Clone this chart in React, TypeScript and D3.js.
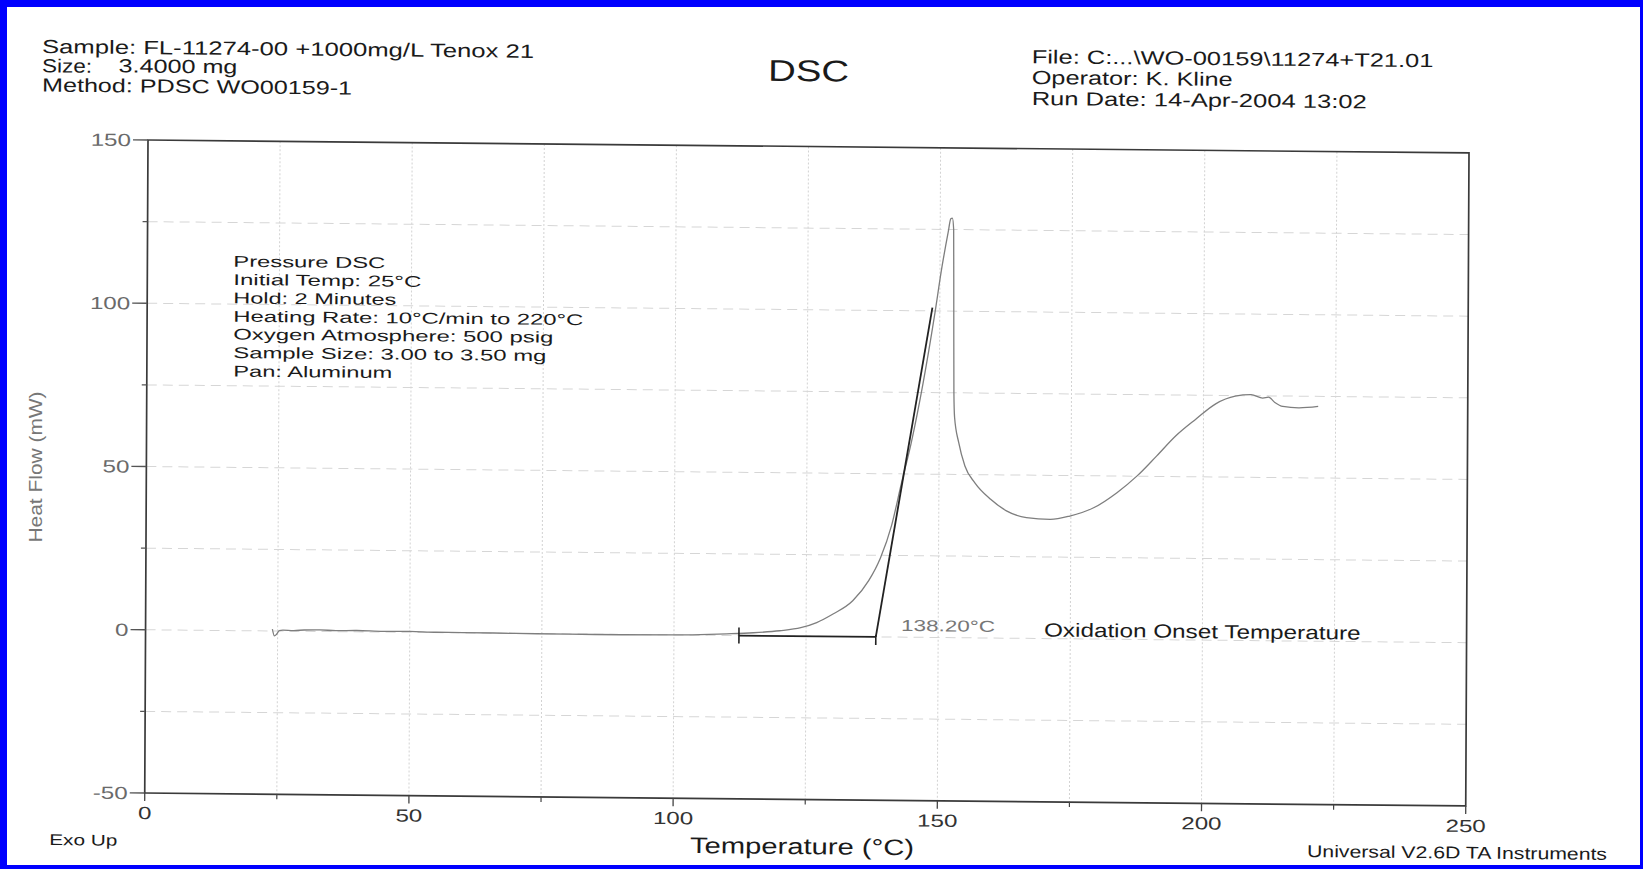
import React from "react";
import * as d3 from "d3";

// ---- data ----
const temperature = [
  24.0, 24.4, 24.8, 25.3, 26, 28, 30, 33, 36, 40, 45, 50, 55, 60, 70, 80, 90, 100, 105, 110,
  115, 120, 124, 127, 130, 133.8, 136.8, 139, 141.1, 142.9, 144.7, 146.9, 149, 150.4, 151.5,
  152.0, 152.3, 152.55, 152.65, 152.75, 152.9, 153.7, 154.9, 156.8, 159.8, 162.8, 166.6, 171.1,
  174.8, 179.3, 183.7, 187.5, 191.2, 194.8, 198.6, 202.3, 206, 209, 211.2, 212.3, 213.5, 215,
  218, 221.7,
];
const heatFlow = [
  0.6, -1.5, -1.0, 0.1, 0.3, 0.2, 0.4, 0.5, 0.3, 0.4, 0.2, 0.3, 0.1, 0.1, 0.0, -0.1, -0.1, 0,
  0.2, 0.5, 0.9, 1.6, 2.6, 4.2, 6.8, 11.0, 17.2, 24.2, 34.3, 47.1, 59.4, 77.8, 98.5, 113.8, 124,
  128.3, 128.5, 125, 100, 75, 67.5, 59.8, 52.6, 47.5, 42.5, 39, 37, 36.5, 37.6, 40.2, 44.9, 50.1,
  56.3, 62.5, 67.7, 72.4, 74.8, 75.3, 74.3, 74.6, 73, 71.8, 71.4, 71.9,
];
const xTicksMajor = [0, 50, 100, 150, 200, 250];
const xTicksMinor = [25, 75, 125, 175, 225];
const yTicksMajor = [150, 100, 50, 0, -50];
const yTicksMinor = [125, 75, 25, -25];
const onsetBaseline = [112.3, 138.2]; // temperatures of tangent baseline ends (at 0 mW)
const onsetTangentTop = [148.6, 101]; // [temperature, mW]
const onsetTemp = 138.2;

const headerLeft = [
  "Sample: FL-11274-00 +1000mg/L Tenox 21",
  "Size:",
  "Method: PDSC WO00159-1",
];
const headerRight = [
  "File: C:...\\WO-00159\\11274+T21.01",
  "Operator: K. Kline",
  "Run Date: 14-Apr-2004 13:02",
];
const methodNotes = [
  "Pressure DSC",
  "Initial Temp: 25°C",
  "Hold: 2 Minutes",
  "Heating Rate: 10°C/min to 220°C",
  "Oxygen Atmosphere: 500 psig",
  "Sample Size: 3.00 to 3.50 mg",
  "Pan: Aluminum",
];

const FONT = "'Liberation Sans', Arial, sans-serif";
const TILT = 0.56;

function T(props: any) {
  const { x, y, w, size, fill = "#1a1a1a", anchor = "start", children, rotate = TILT } = props;
  return (
    <text
      x={x}
      y={y}
      fontSize={size}
      fill={fill}
      textAnchor={anchor}
      fontFamily={FONT}
      textLength={w}
      lengthAdjust="spacingAndGlyphs"
      transform={`rotate(${rotate} ${x} ${y})`}
    >
      {children}
    </text>
  );
}

export default function App() {
  const W = 1321;
  const H = 653;
  const x = d3.scaleLinear().domain([0, 250]).range([0, W]);
  const y = d3.scaleLinear().domain([-50, 150]).range([H, 0]);
  const pts = temperature.map((t, i) => [t, heatFlow[i]] as [number, number]);
  const line = d3
    .line<[number, number]>()
    .x((d) => x(d[0]))
    .y((d) => y(d[1]))
    .curve(d3.curveMonotoneX);
  const gridX = d3.range(25, 250, 25);
  const gridY = d3.range(-25, 150, 25);
  const noteW = [152, 188, 163, 350, 320, 313, 159];
  const noteY = [266.7, 285, 303.3, 321.7, 339.5, 358, 376.5];

  return (
    <div style={{ position: "fixed", left: 0, top: 0 }}>
      <svg width={1643} height={869} style={{ display: "block" }}>
        <rect x={0} y={0} width={1643} height={869} fill="#0000ff" />
        <rect x={7} y={7} width={1633} height={858} fill="#ffffff" />

        {/* header */}
        <T x={42} y={53} w={492} size={19}>{headerLeft[0]}</T>
        <T x={42} y={72.3} w={50} size={19}>{headerLeft[1]}</T>
        <T x={118.6} y={72.3} w={118.7} size={19}>3.4000 mg</T>
        <T x={42} y={91.5} w={310} size={19}>{headerLeft[2]}</T>
        <T x={768} y={80.7} w={81} size={30}>DSC</T>
        <T x={1031.7} y={63.3} w={401.7} size={19}>{headerRight[0]}</T>
        <T x={1031.7} y={84} w={201} size={19}>{headerRight[1]}</T>
        <T x={1031.7} y={105} w={335} size={19}>{headerRight[2]}</T>

        {/* plot */}
        <g transform={`translate(148,140) matrix(1,0.0098,-0.005,1,0,0)`}>
          {gridX.map((g) => (
            <line key={"gx" + g} x1={x(g)} x2={x(g)} y1={0} y2={H} stroke="#d2d2d2" strokeWidth={1} strokeDasharray="2,2" />
          ))}
          {gridY.map((g) => (
            <line key={"gy" + g} x1={0} x2={W} y1={y(g)} y2={y(g)} stroke="#d6d6d6" strokeWidth={1} strokeDasharray="10,6" />
          ))}
          <rect x={0} y={0} width={W} height={H} fill="none" stroke="#3a3a3a" strokeWidth={1.7} />
          {yTicksMajor.map((t) => (
            <g key={"ym" + t}>
              <line x1={-15} x2={0} y1={y(t)} y2={y(t)} stroke="#555" strokeWidth={1.3} />
              <g transform={`translate(-17,${y(t)}) scale(1.38,1)`}>
                <text textAnchor="end" dominantBaseline="central" fontSize={17.5} fill="#6a6a6a" fontFamily={FONT}>
                  {t}
                </text>
              </g>
            </g>
          ))}
          {yTicksMinor.map((t) => (
            <line key={"yn" + t} x1={-5} x2={0} y1={y(t)} y2={y(t)} stroke="#555" strokeWidth={1.2} />
          ))}
          {xTicksMajor.map((t) => (
            <g key={"xm" + t}>
              <line x1={x(t)} x2={x(t)} y1={H} y2={H + 8} stroke="#444" strokeWidth={1.3} />
              <g transform={`translate(${x(t)},${H + 26}) scale(1.38,1)`}>
                <text textAnchor="middle" fontSize={17.5} fill="#333" fontFamily={FONT}>
                  {t}
                </text>
              </g>
            </g>
          ))}
          {xTicksMinor.map((t) => (
            <line key={"xn" + t} x1={x(t)} x2={x(t)} y1={H} y2={H + 5} stroke="#444" strokeWidth={1.2} />
          ))}

          {/* heat flow curve */}
          <path d={line(pts) || ""} fill="none" stroke="#7e7e7e" strokeWidth={1.3} />

          {/* onset construction */}
          <line x1={x(onsetBaseline[0])} x2={x(onsetBaseline[1])} y1={y(0)} y2={y(0)} stroke="#222" strokeWidth={1.8} />
          <line x1={x(onsetBaseline[0])} x2={x(onsetBaseline[0])} y1={y(0) - 8} y2={y(0) + 8} stroke="#222" strokeWidth={1.6} />
          <line x1={x(onsetBaseline[1])} x2={x(onsetBaseline[1])} y1={y(0) - 2} y2={y(0) + 8} stroke="#222" strokeWidth={1.6} />
          <line x1={x(onsetTemp)} x2={x(onsetTangentTop[0])} y1={y(0)} y2={y(onsetTangentTop[1])} stroke="#222" strokeWidth={1.8} />
        </g>

        {/* notes inside plot */}
        {methodNotes.map((s, i) => (
          <T key={s} x={233.3} y={noteY[i]} w={noteW[i]} size={15.5}>
            {s}
          </T>
        ))}
        <T x={901} y={631} w={94} size={16} fill="#777">138.20°C</T>
        <T x={1044} y={636.5} w={316.5} size={19}>Oxidation Onset Temperature</T>

        {/* axis titles & footer */}
        <T x={42} y={467} w={151} size={19} fill="#777" anchor="middle" rotate={-90}>
          Heat Flow (mW)
        </T>
        <T x={690} y={853} w={224} size={22.5}>Temperature (°C)</T>
        <T x={49.3} y={845} w={68} size={15.5}>Exo Up</T>
        <T x={1307} y={857} w={300} size={17}>Universal V2.6D TA Instruments</T>
      </svg>
    </div>
  );
}
